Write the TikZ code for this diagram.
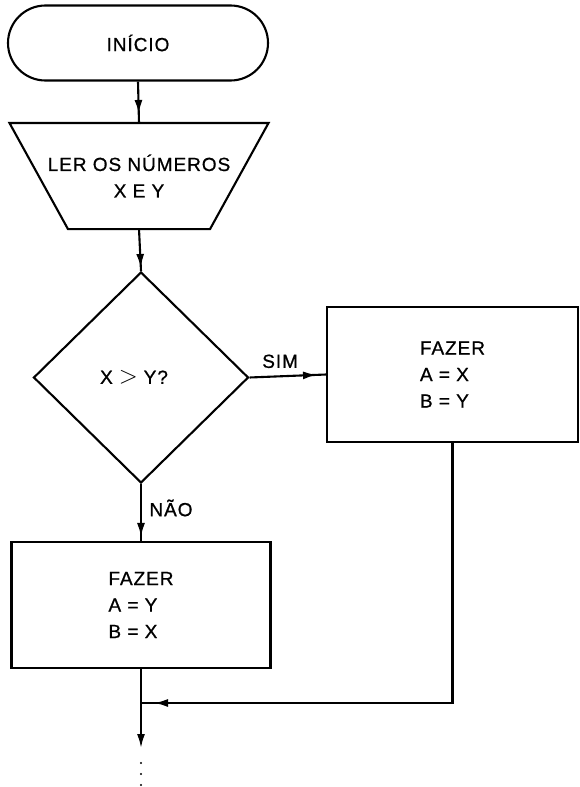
\documentclass[tikz,border=0pt]{standalone}
\usepackage{fontspec}
\setmainfont[LetterSpace=5,FakeBold=0.8]{Liberation Sans}
\usetikzlibrary{shapes.geometric,shapes.misc,arrows.meta,decorations.markings,calc}
\tikzset{
  arr/.style={postaction={decorate},
    decoration={markings, mark=at position -#1 with {\arrow{Latex[length=14pt,width=8pt]}}}},
  termbox/.style={draw, rounded rectangle, minimum width=260pt, minimum height=75pt, inner sep=0pt},
  procbox/.style={draw, rectangle, align=left, inner sep=0pt},
  decbox/.style={draw, diamond, minimum width=215pt, minimum height=211pt, inner sep=0pt},
  lbl/.style={inner sep=0pt},
  dotmark/.style={fill=black}
}
\begin{document}
\begin{tikzpicture}[x=1pt,y=-1pt, line width=2.1pt, font=\fontsize{19}{26.5}\selectfont]
\useasboundingbox (0,0) rectangle (579,787);
\node[termbox] (start) at (138,43) {INÍCIO};
\node[inner sep=0pt, minimum width=257pt, minimum height=104pt, align=center] (rd) at (139,176) {LER OS NÚMEROS\\X E Y};
\draw (rd.north west) -- (rd.north east) -- ([xshift=-58.5pt]rd.south east) -- ([xshift=58.5pt]rd.south west) -- cycle;
\node[decbox] (dec) at (141,377.5) {\hspace*{-14pt}X\hspace{6pt}{\fontsize{24}{24}\selectfont$>$}\hspace{6pt}Y?};
\node[procbox, minimum width=251pt, minimum height=135pt] (b1) at (452.5,374.5) {FAZER\\A = X\\B = Y};
\node[procbox, minimum width=259pt, minimum height=126pt] (b2) at (141,605) {FAZER\\A = Y\\B = X};
\coordinate (j) at (141,703);
\coordinate (e) at (141,748);

\draw[arr=9pt] (start.south) -- (rd.north);
\draw[arr=3pt] (rd.south) -- (dec.north);
\draw[arr=9pt] (dec.east) -- node[lbl, pos=0.4, yshift=15pt]{SIM} (b1.west);
\draw[arr=4pt] (dec.south) -- node[lbl, pos=0.42, xshift=30pt]{NÃO} (b2.north);
\draw[arr=13pt] (b1.south) |- (j);
\draw (b2.south) -- (j);
\draw[-{Latex[length=14pt,width=8pt]}] (j) -- (e);
\fill[dotmark] (141,763) circle (1.2pt);
\fill[dotmark] (141,774) circle (1.2pt);
\fill[dotmark] (141,785) circle (1.2pt);
\end{tikzpicture}
\end{document}
